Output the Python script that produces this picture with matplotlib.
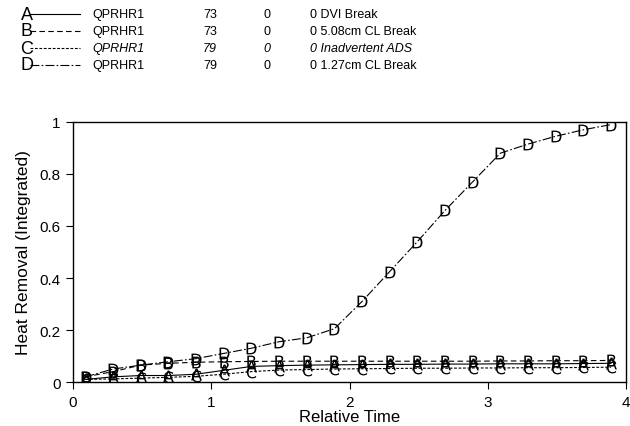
import matplotlib.pyplot as plt

plt.rcParams['font.family'] = ['Liberation Sans', 'DejaVu Sans']

# relative time of each stored point
t = [0.09, 0.29, 0.49, 0.69, 0.89, 1.09, 1.29, 1.49, 1.69, 1.89,
     2.09, 2.29, 2.49, 2.69, 2.89, 3.09, 3.29, 3.49, 3.69, 3.89]

heat_a = [0.010, 0.020, 0.025, 0.025, 0.030, 0.045, 0.060, 0.063, 0.065, 0.066,
          0.067, 0.068, 0.068, 0.069, 0.069, 0.070, 0.070, 0.070, 0.071, 0.072]
heat_b = [0.020, 0.040, 0.065, 0.072, 0.076, 0.078, 0.079, 0.080, 0.080, 0.080,
          0.080, 0.080, 0.080, 0.080, 0.080, 0.081, 0.081, 0.082, 0.082, 0.083]
heat_c = [0.010, 0.012, 0.015, 0.018, 0.022, 0.030, 0.040, 0.046, 0.048, 0.050,
          0.051, 0.052, 0.053, 0.053, 0.054, 0.054, 0.055, 0.055, 0.056, 0.057]
heat_d = [0.020, 0.050, 0.065, 0.078, 0.090, 0.110, 0.130, 0.155, 0.170, 0.205,
          0.310, 0.425, 0.540, 0.660, 0.770, 0.880, 0.915, 0.945, 0.970, 0.990]

letters = ['A', 'B', 'C', 'D']
variables = ['QPRHR1', 'QPRHR1', 'QPRHR1', 'QPRHR1']
run_ids = ['73', '73', '79', '79']
cases = ['DVI Break', '5.08cm CL Break', 'Inadvertent ADS', '1.27cm CL Break']
styles = ['-', (0, (5, 3)), (0, (2.5, 1.5)), (0, (8, 2, 1.5, 2))]

fig = plt.figure(figsize=(6.3, 4.27), dpi=100)
ax = fig.add_axes([0.116, 0.103, 0.878, 0.609])

for y, let, ls in zip([heat_a, heat_b, heat_c, heat_d], letters, styles):
    ax.plot(t, y, color='black', lw=0.8, ls=ls,
            marker='$\\mathsf{%s}$' % let, markersize=8.5,
            markeredgewidth=0.0, markerfacecolor='black')

ax.set_xlim(0, 4)
ax.set_ylim(0, 1)
ax.set_xticks([0, 1, 2, 3, 4])
ax.set_yticks([0, 0.2, 0.4, 0.6, 0.8, 1])
ax.set_yticklabels(['0', '0.2', '0.4', '0.6', '0.8', '1'])
ax.tick_params(direction='out', length=5, width=0.8, labelsize=11, pad=4)
for s in ax.spines.values():
    s.set_linewidth(1.0)
ax.set_xlabel('Relative Time', fontsize=12, labelpad=0)
ax.set_ylabel('Heat Removal (Integrated)', fontsize=12.5, labelpad=6)

# header table with the line key
for i in range(4):
    yy = 1 - (15 + 17 * i) / 427
    italic = 'italic' if i == 2 else 'normal'
    fig.text(27 / 630, yy, letters[i], fontsize=13, ha='center', va='center')
    fig.add_artist(plt.Line2D([30 / 630, 80 / 630], [yy, yy], color='black',
                              lw=0.8, ls=styles[i], transform=fig.transFigure))
    kw = dict(fontsize=9, va='center', style=italic)
    fig.text(92 / 630, yy, variables[i], **kw)
    fig.text(203 / 630, yy, run_ids[i], **kw)
    fig.text(263 / 630, yy, '0', **kw)
    fig.text(310 / 630, yy, '0 ' + cases[i], **kw)

fig.savefig('out.png', dpi=100)
